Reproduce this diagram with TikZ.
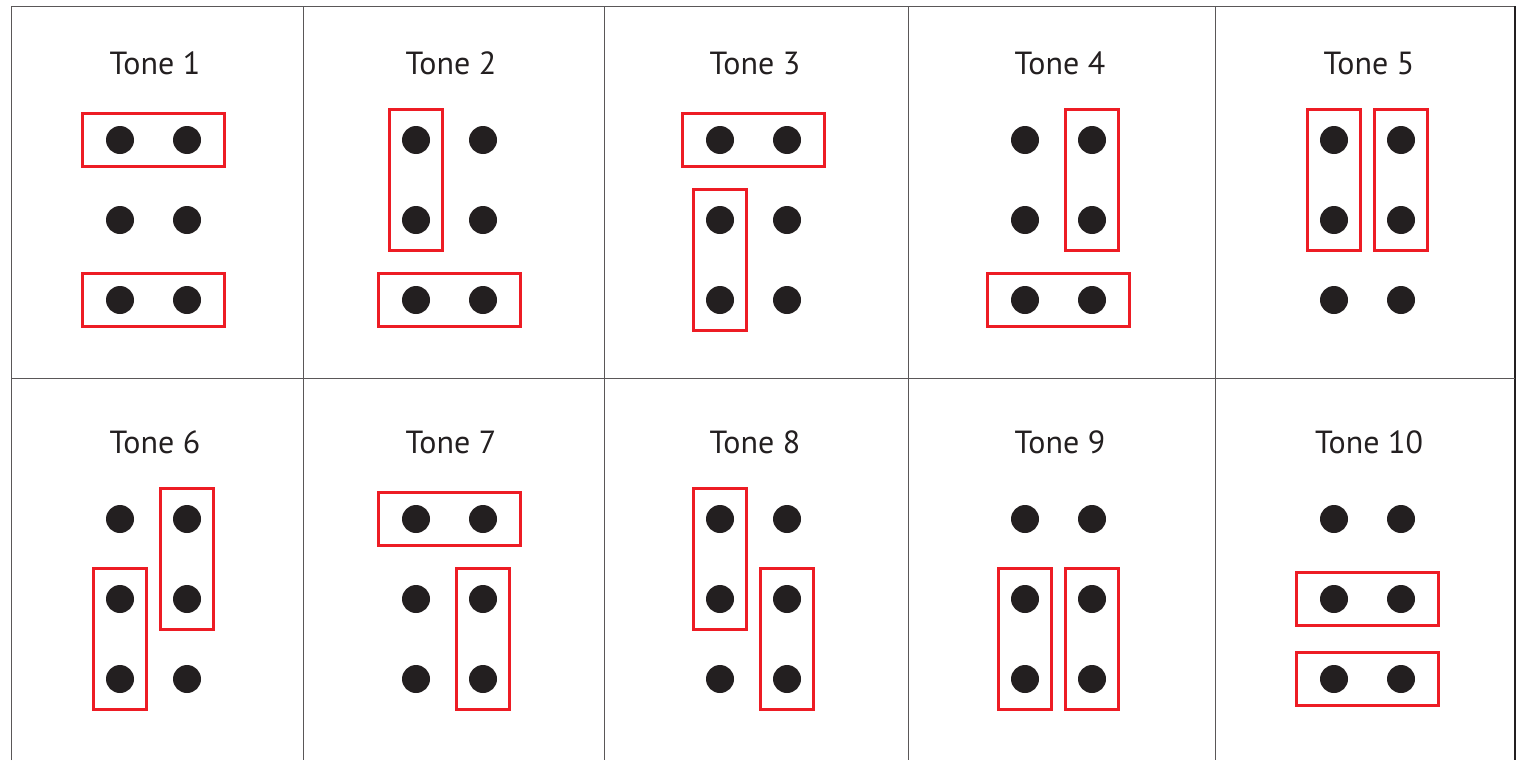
\documentclass[tikz,border=0pt]{standalone}
\usepackage{fontspec}
\setmainfont{PT Sans}
\usepackage{tikz}
\usetikzlibrary{fit}
\usepackage{xcolor}
\definecolor{DotBlack}{RGB}{35,31,32}
\definecolor{BoxRed}{RGB}{237,28,36}
\tikzset{
  gridline/.style={draw=DotBlack!75, line width=0.5pt},
  rimline/.style={draw=DotBlack, line width=1.3pt},
  dot/.style={circle, fill=DotBlack, inner sep=0pt, minimum size=14pt},
  tonelabel/.style={anchor=base, text=DotBlack, inner sep=0pt,
    font=\fontsize{16}{19}\selectfont},
  hgrp/.style={draw=BoxRed, line width=1.2pt, inner xsep=11.5pt, inner ysep=6pt},
  vgrp/.style={draw=BoxRed, line width=1.2pt, inner xsep=6pt, inner ysep=8pt}
}
\begin{document}
\begin{tikzpicture}[x=0.5pt, y=-0.5pt]
  \useasboundingbox (0,0) rectangle (1525,760);
  % cell grid
  \draw[gridline] (11,760) -- (11,6) -- (1515,6);
  \draw[rimline] (1515,6) -- (1515,760);
  \foreach \gx in {303,604,908,1215}
    \draw[gridline] (\gx,6) -- (\gx,760);
  \draw[gridline] (11,378) -- (1515,378);
  % six dots and a label per tone
  \foreach \t/\cx/\cy in {1/120/140, 2/416/140, 3/720/140, 4/1025/140, 5/1334/140,
                          6/120/519, 7/416/519, 8/720/519, 9/1025/519, 10/1334/519} {
    \node[tonelabel] (lbl\t) at (\cx+35, \cy-66) {Tone \t};
    \foreach \r in {0,1,2}
      \foreach \c in {0,1}
        \node[dot] (d\t-\r\c) at (\cx+67*\c, \cy+80*\r) {};
  }
  % red groups
  \foreach \t/\kind/\a/\b in {1/hgrp/00/01, 1/hgrp/20/21,
                              2/vgrp/00/10, 2/hgrp/20/21,
                              3/hgrp/00/01, 3/vgrp/10/20,
                              4/vgrp/01/11, 4/hgrp/20/21,
                              5/vgrp/00/10, 5/vgrp/01/11,
                              6/vgrp/01/11, 6/vgrp/10/20,
                              7/hgrp/00/01, 7/vgrp/11/21,
                              8/vgrp/00/10, 8/vgrp/11/21,
                              9/vgrp/10/20, 9/vgrp/11/21,
                              10/hgrp/10/11, 10/hgrp/20/21}
    \node[\kind, fit=(d\t-\a)(d\t-\b)] (g\t-\a) {};
\end{tikzpicture}
\end{document}
